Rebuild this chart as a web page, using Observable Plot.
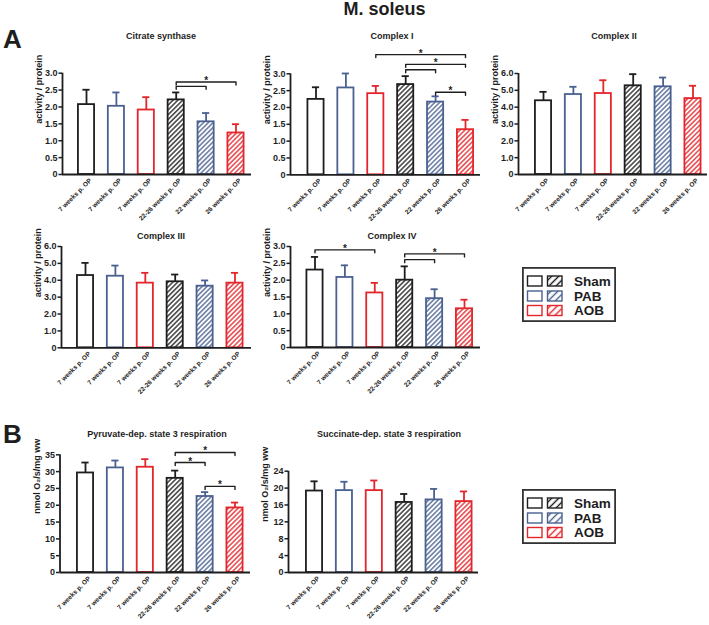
<!DOCTYPE html>
<html><head><meta charset="utf-8">
<script src="https://cdn.jsdelivr.net/npm/d3@7"></script>
<script src="https://cdn.jsdelivr.net/npm/@observablehq/plot@0.6"></script>
<style>
body{margin:0;background:#fff;font-family:"Liberation Sans",Arial,sans-serif;}
#root{position:relative;width:709px;height:625px;overflow:hidden;background:#fff;}
.t{position:absolute;font-weight:bold;color:#1e1e1e;white-space:nowrap;line-height:1;}
</style></head><body><div id="root"></div>
<script>
// ---------- data ----------
const tickLabels = ["7 weeks p. OP","7 weeks p. OP","7 weeks p. OP","22-26 weeks p. OP","22 weeks p. OP","26 weeks p. OP"];
const groups = ["Sham","PAB","AOB","Sham","PAB","AOB"];
const hatched = [false,false,false,true,true,true];
const legendGroups = ["Sham","PAB","AOB"];

const citrateMean = [2.07,2.02,1.91,2.21,1.56,1.23];
const citrateErr  = [0.44,0.41,0.38,0.22,0.26,0.26];
const complex1Mean = [2.24,2.58,2.41,2.68,2.16,1.34];
const complex1Err  = [0.36,0.43,0.23,0.25,0.17,0.29];
const complex2Mean = [4.38,4.75,4.81,5.27,5.21,4.51];
const complex2Err  = [0.53,0.46,0.79,0.69,0.55,0.76];
const complex3Mean = [4.28,4.24,3.83,3.91,3.65,3.83];
const complex3Err  = [0.75,0.63,0.61,0.43,0.34,0.61];
const complex4Mean = [2.30,2.08,1.62,2.00,1.45,1.15];
const complex4Err  = [0.39,0.36,0.30,0.41,0.28,0.27];
const pyruvateMean = [29.6,31.1,31.3,28.0,22.6,19.2];
const pyruvateErr  = [3.1,2.2,2.4,2.3,1.3,1.6];
const succinateMean = [19.3,19.4,19.4,16.6,17.2,16.8];
const succinateErr  = [2.3,2.1,2.4,2.0,2.6,2.4];

// significance brackets: [from bar, to bar, height, star]
const citrateBrackets  = [[3,5,2.74,true],[3,4,2.61,false]];
const complex1Brackets = [[2,5,3.57,true],[3,5,3.28,true],[3,4,3.12,false],[4,5,2.45,true]];
const complex2Brackets = [];
const complex3Brackets = [];
const complex4Brackets = [[0,2,2.90,true],[3,5,2.78,true],[3,4,2.61,false]];
const pyruvateBrackets = [[3,5,35.7,true],[3,4,32.7,true],[4,5,25.6,true]];
const succinateBrackets = [];

const ticks3  = [0,0.5,1,1.5,2,2.5,3];
const ticks6  = [0,1,2,3,4,5,6];
const ticks35 = [0,5,10,15,20,25,30,35];
const ticks24 = [0,4,8,12,16,20,24];

const labelActivity = "activity / protein";
const labelResp = "nmol O\u2082/s/mg ww";

// ---------- styling ----------
const colors = {Sham:"#1e1e1e", PAB:"#4a6190", AOB:"#e3262b"};
const FONT = "'Liberation Sans', Arial, sans-serif";
const STEP = 29.9;
const HW = 0.27;
const fmt1 = d => d === 0 ? "0" : d.toFixed(1);
const fmt0 = d => String(d);

const panels = [
  {title:"Citrate synthase", mean:citrateMean, err:citrateErr, ticks:ticks3, fmt:fmt1, ylabel:labelActivity, brackets:citrateBrackets,
   box:{left:0,top:40,width:255,height:195}, axisX:62, c0:86, axisEnd:251, y0:174, yTop:72.7, tx:161, tb:40},
  {title:"Complex I", mean:complex1Mean, err:complex1Err, ticks:ticks3, fmt:fmt1, ylabel:labelActivity, brackets:complex1Brackets,
   box:{left:240,top:40,width:245,height:195}, axisX:290, c0:315.5, axisEnd:480, y0:174.3, yTop:73.3, tx:392, tb:40},
  {title:"Complex II", mean:complex2Mean, err:complex2Err, ticks:ticks6, fmt:fmt1, ylabel:labelActivity, brackets:complex2Brackets,
   box:{left:470,top:40,width:239,height:195}, axisX:518, c0:543, axisEnd:707, y0:174, yTop:73, tx:614, tb:40},
  {title:"Complex III", mean:complex3Mean, err:complex3Err, ticks:ticks6, fmt:fmt1, ylabel:labelActivity, brackets:complex3Brackets,
   box:{left:0,top:241,width:255,height:167}, axisX:61, c0:85, axisEnd:251, y0:347.3, yTop:246, tx:161, tb:240},
  {title:"Complex IV", mean:complex4Mean, err:complex4Err, ticks:ticks3, fmt:fmt1, ylabel:labelActivity, brackets:complex4Brackets,
   box:{left:240,top:241,width:245,height:167}, axisX:290, c0:314.5, axisEnd:480, y0:347, yTop:246, tx:392, tb:240},
  {title:"Pyruvate-dep. state 3 respiration", mean:pyruvateMean, err:pyruvateErr, ticks:ticks35, fmt:fmt0, ylabel:labelResp, brackets:pyruvateBrackets,
   box:{left:0,top:441,width:255,height:184}, axisX:59.5, c0:85, axisEnd:250, y0:572, yTop:454.3, tx:157, tb:438},
  {title:"Succinate-dep. state 3 respiration", mean:succinateMean, err:succinateErr, ticks:ticks24, fmt:fmt0, ylabel:labelResp, brackets:succinateBrackets,
   box:{left:240,top:441,width:245,height:184}, axisX:288, c0:314, axisEnd:478, y0:572, yTop:470.7, tx:389, tb:438}
];

const root = document.getElementById("root");

// patterns
const defs = ['<svg width="0" height="0" style="position:absolute"><defs>'];
for (const g of legendGroups) {
  defs.push(`<pattern id="hatch-${g}" patternUnits="userSpaceOnUse" width="3.4" height="3.4" patternTransform="rotate(45)"><rect width="3.4" height="3.4" fill="white"/><line x1="1.7" y1="-1" x2="1.7" y2="5" stroke="${colors[g]}" stroke-width="1.3"/></pattern>`);
  defs.push(`<pattern id="lhatch-${g}" patternUnits="userSpaceOnUse" width="5" height="5" patternTransform="rotate(45)"><rect width="5" height="5" fill="white"/><line x1="2.5" y1="-1" x2="2.5" y2="6" stroke="${colors[g]}" stroke-width="1.4"/></pattern>`);
}
defs.push('</defs></svg>');
root.insertAdjacentHTML("beforeend", defs.join(""));

function addText(txt, x, baseline, size, center) {
  const d = document.createElement("div");
  d.className = "t";
  d.textContent = txt;
  d.style.fontSize = size + "px";
  d.style.top = (baseline - 0.8465 * size) + "px";
  d.style.left = x + "px";
  if (center) d.style.transform = "translateX(-50%)";
  root.appendChild(d);
}

addText("M. soleus", 384.5, 15, 18, true);
addText("A", 3, 48, 26, false);
addText("B", 3, 443, 26, false);

function drawPanel(p) {
  const b = p.box;
  const mL = p.axisX - b.left, mR = b.left + b.width - p.axisEnd;
  const mT = p.yTop - b.top, mB = b.top + b.height - p.y0;
  const ymax = p.ticks[p.ticks.length - 1];
  const xd = [(p.axisX - p.c0) / STEP, (p.axisEnd - p.c0) / STEP];
  const delta = 3 * ymax / (p.y0 - p.yTop);
  const rows = p.mean.map((v, i) => ({i, v, e: p.err[i], g: groups[i], h: hatched[i]}));
  const bpts = p.brackets.flatMap((br, k) =>
    [[br[0], br[2] - delta], [br[0], br[2]], [br[1], br[2]], [br[1], br[2] - delta]].map(([x, y]) => ({x, y, k})));
  const stars = p.brackets.filter(br => br[3]).map(br => ({x: (br[0] + br[1]) / 2, y: br[2]}));
  const chart = Plot.plot({
    width: b.width, height: b.height,
    marginLeft: mL, marginRight: mR, marginTop: mT, marginBottom: mB,
    x: {domain: xd, label: null},
    y: {domain: [0, ymax], label: null},
    color: {type: "identity"},
    style: {background: "transparent", overflow: "visible", fontFamily: FONT, color: "#1e1e1e"},
    marks: [
      Plot.rectY(rows, {x1: d => d.i - HW, x2: d => d.i + HW, y1: 0, y2: "v",
        fill: d => d.h ? `url(#hatch-${d.g})` : "white", stroke: d => colors[d.g], strokeWidth: 1.8}),
      Plot.ruleX(rows, {x: "i", y1: "v", y2: d => d.v + d.e, stroke: d => colors[d.g], strokeWidth: 1.8}),
      Plot.ruleY(rows, {x1: d => d.i - 0.12, x2: d => d.i + 0.12, y: d => d.v + d.e, stroke: d => colors[d.g], strokeWidth: 1.8}),
      Plot.ruleY([0], {stroke: "#1e1e1e", strokeWidth: 1.8}),
      Plot.ruleX([xd[0]], {y1: 0, y2: ymax, stroke: "#1e1e1e", strokeWidth: 1.8}),
      Plot.axisY({ticks: p.ticks, tickFormat: p.fmt, tickSize: 3.5, tickPadding: 1.5, fontSize: 9, fontWeight: "bold", strokeWidth: 1.5, label: null}),
      Plot.axisX({ticks: [0,1,2,3,4,5], tickFormat: i => tickLabels[i], tickRotate: -45, tickSize: 0, tickPadding: 5, dx: 4, fontSize: 6.5, fontWeight: "bold", label: null}),
      Plot.line(bpts, {x: "x", y: "y", z: "k", stroke: "#1e1e1e", strokeWidth: 1.4}),
      Plot.text(stars, {x: "x", y: "y", text: () => "*", fontSize: 10, fontWeight: "bold", lineAnchor: "bottom", dy: 2}),
      Plot.text([p.ylabel], {frameAnchor: "left", text: d => d, rotate: -90, dx: -23, fontSize: 9, fontWeight: "bold"})
    ]
  });
  chart.style.position = "absolute";
  chart.style.left = b.left + "px";
  chart.style.top = b.top + "px";
  root.appendChild(chart);
  addText(p.title, p.tx, p.tb, 9, true);
}
panels.forEach(drawPanel);

function legend(top) {
  const W = 94, H = 55, ys = [14, 29, 43.5];
  let s = `<svg width="${W}" height="${H}" style="position:absolute;left:522px;top:${top}px;overflow:visible;font-family:${FONT}">`;
  s += `<rect x="0.9" y="0.9" width="${W - 1.8}" height="${H - 1.8}" fill="white" stroke="#333" stroke-width="1.8"/>`;
  legendGroups.forEach((g, k) => {
    const cy = ys[k];
    s += `<rect x="5.5" y="${cy - 5}" width="14.5" height="10" fill="white" stroke="${colors[g]}" stroke-width="1.4"/>`;
    s += `<rect x="25.5" y="${cy - 5}" width="14.5" height="10" fill="url(#lhatch-${g})" stroke="${colors[g]}" stroke-width="1.4"/>`;
    s += `<text x="52" y="${cy}" dy="0.36em" font-size="13.5" font-weight="bold" fill="#1e1e1e">${g}</text>`;
  });
  s += "</svg>";
  root.insertAdjacentHTML("beforeend", s);
}
legend(267);
legend(489);
</script></body></html>
